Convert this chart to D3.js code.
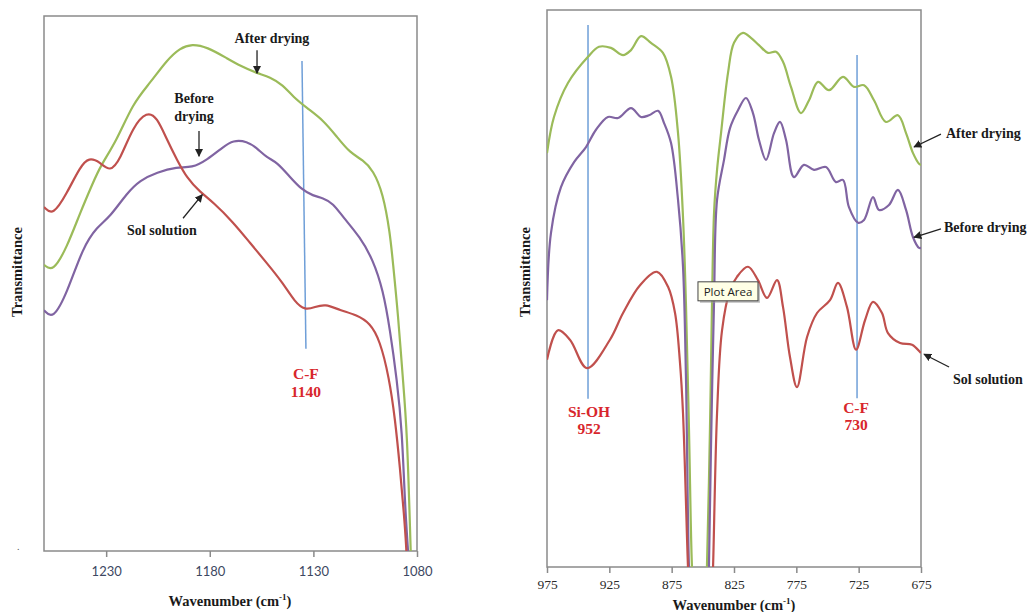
<!DOCTYPE html>
<html>
<meta charset=utf-8>
<head>
  <style>
    body { margin: 0; background: #fff; }
    svg { display: block; }
    .lbl { font-family: "Liberation Serif", "DejaVu Serif", serif; font-weight: bold; font-size: 14px; fill: #1a1a1a; }
    .peak { font-family: "Liberation Serif", serif; font-weight: bold; font-size: 15.5px; fill: #d8262c; }
    .ttl { font-family: "Liberation Serif", serif; font-weight: bold; font-size: 14.5px; fill: #1a1a1a; }
  </style>
</head>
<body>
<svg id="chart" width="1031" height="612"></svg>
<script src="https://d3js.org/d3.v7.min.js"></script>
<script>
// ---- left panel (1260-1080 cm-1) ----
var leftTicks = [1230, 1180, 1130, 1080]
var leftWave = {
  after:  [1260, 1255.7, 1248.9, 1242.6, 1236.4, 1233, 1224.8, 1217.1, 1208.8, 1200.6, 1194.4, 1188.6, 1181.3, 1171.7, 1165.4, 1157.2, 1150.9, 1144.7, 1139.8, 1133.1, 1125.4, 1118.6, 1112.3, 1106.1, 1101.2, 1096.4, 1093, 1091.6, 1089.2, 1086.8, 1084.8, 1083.2, 1082.8],
  before: [1260, 1255.7, 1248.9, 1241.2, 1234.4, 1228.2, 1220, 1213.7, 1205.5, 1195.8, 1188.6, 1181.3, 1173.6, 1168.8, 1162, 1157.2, 1152.4, 1147.6, 1141.3, 1135.5, 1130.2, 1125.4, 1120.5, 1115.7, 1107.5, 1101.2, 1096.4, 1093, 1089.7, 1087.2, 1085.8, 1084.3, 1083.9],
  sol:    [1260, 1255.7, 1248.9, 1242.6, 1238.3, 1233, 1228.2, 1223.3, 1217.1, 1210.3, 1205.5, 1200.6, 1195.8, 1191, 1184.7, 1178.4, 1168.8, 1160.6, 1152.4, 1144.7, 1138.9, 1134, 1129.2, 1124.4, 1117.2, 1109, 1102.7, 1097.9, 1093.5, 1090.6, 1088.2, 1086.2, 1085.2, 1084.8]
}
var leftT = {
  after:  [53.5, 52.1, 56.8, 63.2, 68.8, 71.8, 76.8, 83.7, 87.5, 91.8, 94, 94.8, 94.2, 92.1, 90.7, 89.3, 88.6, 87.1, 84.9, 82.8, 80.6, 77.4, 74.4, 73.1, 71.2, 66.9, 59.4, 53.8, 44.5, 32, 22.6, 2, -3],
  before: [45, 43.2, 48.2, 56.8, 60.6, 62.4, 66.9, 69.3, 70.8, 71.8, 71.6, 73.1, 75.5, 76.8, 76.6, 75.3, 73.5, 72.7, 69.9, 67.5, 66.4, 66, 65, 62.4, 58.7, 54.4, 48.8, 41.3, 32, 22.6, 8.4, 0, -3],
  sol:    [64.3, 62.6, 66.9, 71.8, 73.6, 72.7, 70.8, 73.1, 79.3, 82.2, 81.1, 76.8, 73.1, 69.7, 67.1, 65.2, 61.5, 57.6, 53.8, 50.1, 46.5, 45, 45.6, 46.2, 45, 44.1, 42.6, 39.4, 32.5, 24.8, 15.5, 6.5, 1, -3]
}

// ---- right panel (975-675 cm-1) ----
var rightTicks = [975, 925, 875, 825, 775, 725, 675]
var rightWave = {
  after:  [975, 969.4, 958.2, 942.1, 933.3, 923.7, 914, 907.6, 899.6, 891.6, 882, 875.5, 869.9, 865.9, 863.5, 861.1, 858.7, 857.5, 847.5, 846.7, 844.3, 842.6, 841, 838.6, 835.4, 829.8, 825, 817.8, 811.4, 805, 797.7, 791.3, 785.7, 779.3, 771.3, 764.8, 757.6, 748.8, 737.6, 728.7, 720.7, 712.7, 703.1, 693.5, 687, 681.4, 676.6, 675],
  before: [975, 971.8, 963.8, 953.3, 943.7, 935.7, 926.1, 918, 907.6, 899.6, 893.2, 886, 881.1, 875.5, 869.9, 865.9, 863.5, 861.1, 860, 845.8, 845.1, 843.5, 841, 838.6, 833, 828.2, 821.8, 815.4, 809.8, 805, 799.3, 792.9, 788.1, 783.3, 776.9, 768.9, 760.8, 751.2, 743.2, 737.6, 732.8, 725.5, 720.7, 713.5, 708.7, 700.7, 693.5, 687, 681.4, 676.6, 675],
  sol:    [975, 966.2, 956.6, 942.9, 924.5, 914, 900.4, 886.8, 877.9, 872.3, 868.3, 865.9, 861.9, 861, 842.5, 841.8, 838.6, 834.6, 828.2, 822.6, 813.8, 805.8, 798.5, 790.5, 785.7, 780.1, 774.5, 766.4, 758.4, 748, 741.6, 734.4, 727.1, 719.9, 713.5, 706.3, 701.5, 691.8, 682.2, 675.8, 675]
}
var rightT = {
  after:  [74.3, 80.8, 86.9, 91.6, 93.4, 93.2, 91.9, 92.8, 95.3, 94.1, 92.3, 88, 77.9, 62.8, 46.9, 24.6, 0, -4, -4, 0, 24.6, 47.9, 63.6, 71.3, 77.9, 88.7, 94.1, 95.9, 95, 93.7, 92.3, 92.5, 90.7, 86.2, 81.5, 83.8, 87.1, 85.6, 88, 86.2, 86.5, 83.8, 79.9, 81.1, 77.9, 74.3, 72.4, 72.2],
  before: [47.9, 60, 68.2, 72.7, 75.4, 78.5, 80.8, 80.6, 82.4, 80.8, 81.1, 81.9, 79.7, 76.1, 65.9, 53.9, 33.6, 0, -4, -4, 0, 21, 47.9, 65.9, 73.1, 78.8, 82, 84.2, 81.5, 76.7, 73.1, 77.9, 79.9, 76.7, 70, 72.2, 71.3, 71.8, 69.1, 69.5, 64.6, 61.8, 62.3, 66.4, 64.1, 65, 67.7, 64.1, 59.2, 57.3, 57.3],
  sol:    [37.2, 42.5, 40.8, 35.7, 40.8, 45.6, 50.6, 53, 50.3, 45.6, 36.6, 27.6, 0, -4, -4, 0, 27.6, 42.5, 49.7, 52.1, 53.9, 51.5, 48.3, 51.5, 46.7, 37.7, 32.3, 41.3, 45.6, 47.9, 51, 46.7, 39, 44.3, 47.6, 45.6, 42, 40.2, 39.9, 38.6, 38.4]
}

var colors = { after: '#9bbb59', before: '#8064a2', sol: '#c0504d' }
var seriesKeys = ['after', 'before', 'sol']

var svg = d3.select('#chart')
var defs = svg.append('defs')
defs.append('marker')
  .attr('id', 'arr').attr('viewBox', '0 0 10 10').attr('refX', 9).attr('refY', 5)
  .attr('markerWidth', 8).attr('markerHeight', 8).attr('markerUnits', 'userSpaceOnUse')
  .attr('orient', 'auto')
  .append('path').attr('d', 'M0,0 L10,5 L0,10 z').attr('fill', '#222')

function panel(opt) {
  var x = d3.scaleLinear().domain(opt.xDomain).range([opt.left, opt.right])
  var y = d3.scaleLinear().domain([0, 100]).range([opt.bottom, opt.top])
  var g = svg.append('g')

  defs.append('clipPath').attr('id', opt.id + '-clip')
    .append('rect').attr('x', opt.left).attr('y', opt.top)
    .attr('width', opt.right - opt.left).attr('height', opt.bottom - opt.top)

  // frame
  g.append('rect')
    .attr('x', opt.left).attr('y', opt.top)
    .attr('width', opt.right - opt.left).attr('height', opt.bottom - opt.top)
    .attr('fill', 'none').attr('stroke', '#8a8a8a').attr('stroke-width', 1.5)

  // x axis
  var ax = g.append('g').attr('transform', 'translate(0,' + opt.bottom + ')')
    .call(d3.axisBottom(x).tickValues(opt.ticks).tickFormat(d3.format('d'))
      .tickSize(6).tickSizeOuter(0).tickPadding(opt.tickPad))
  ax.select('.domain').remove()
  ax.selectAll('line').attr('stroke', '#8a8a8a').attr('stroke-width', 1.5)
  ax.selectAll('text')
    .attr('font-family', opt.tickFont).attr('font-size', opt.tickSize).attr('fill', opt.tickColor)

  // marker lines
  opt.markers.forEach(function (m) {
    g.append('line')
      .attr('x1', x(m.w1)).attr('y1', y(m.t1))
      .attr('x2', x(m.w2)).attr('y2', y(m.t2))
      .attr('stroke', '#6f9fd8').attr('stroke-width', 1.5)
  })

  var line = d3.line().curve(opt.curve)
  var lines = g.append('g').attr('clip-path', 'url(#' + opt.id + '-clip)')
  seriesKeys.forEach(function (k) {
    var pts = opt.wave[k].map(function (w, i) { return [x(w), y(opt.trans[k][i])] })
    lines.append('path').attr('d', line(pts))
      .attr('fill', 'none').attr('stroke', colors[k]).attr('stroke-width', 2.2)
  })

  // annotations
  opt.labels.forEach(function (l) {
    var t = g.append('text').attr('class', l.cls || 'lbl')
      .attr('x', x(l.w)).attr('y', y(l.t))
      .attr('text-anchor', l.anchor || 'middle')
    l.text.forEach(function (s, i) {
      t.append('tspan').attr('x', x(l.w)).attr('dy', i === 0 ? 0 : l.lh).text(s)
    })
  })
  opt.arrows.forEach(function (a) {
    g.append('line')
      .attr('x1', x(a[0])).attr('y1', y(a[1])).attr('x2', x(a[2])).attr('y2', y(a[3]))
      .attr('stroke', '#222').attr('stroke-width', 1.3).attr('marker-end', 'url(#arr)')
  })

  // titles
  var xt = g.append('text').attr('class', 'ttl').attr('text-anchor', 'middle')
    .attr('x', opt.xTitleX).attr('y', opt.xTitleY)
  xt.append('tspan').text('Wavenumber (cm')
  xt.append('tspan').attr('font-size', 9).attr('dy', -6).text('-1')
  xt.append('tspan').attr('dy', 6).text(')')
  g.append('text').attr('class', 'ttl').attr('text-anchor', 'middle')
    .attr('transform', 'translate(' + opt.yTitleX + ',' + opt.yTitleY + ') rotate(-90)')
    .text('Transmittance')
  return { x: x, y: y, g: g }
}

var L = panel({
  id: 'left', xDomain: [1260, 1080], left: 44, right: 417, top: 16, bottom: 551,
  ticks: leftTicks, tickPad: 10, tickFont: 'Lato, "Open Sans", sans-serif', tickSize: 13, tickColor: '#3d4862',
  wave: leftWave, trans: leftT, curve: d3.curveBasis,
  markers: [{ w1: 1135.5, t1: 91.6, w2: 1133.6, t2: 37.8 }],
  labels: [
    { text: ['After drying'], w: 1150, t: 95.0 },
    { text: ['Before', 'drying'], w: 1187.6, t: 83.7, lh: 18 },
    { text: ['Sol solution'], w: 1203.1, t: 59.1 },
    { text: ['C-F', '1140'], w: 1133.6, t: 32.1, lh: 18, cls: 'peak' }
  ],
  arrows: [
    [1157.2, 93.6, 1157.2, 89.3],
    [1185.2, 78.5, 1185.2, 73.8],
    [1192.9, 62.2, 1183.6, 66.6]
  ],
  xTitleX: 230, xTitleY: 606, yTitleX: 22, yTitleY: 272
})
L.g.append('text').attr('x', 17).attr('y', 550).attr('font-size', 10).attr('fill', '#555').text('.')

var R = panel({
  id: 'right', xDomain: [975, 675], left: 547, right: 921, top: 10, bottom: 567,
  ticks: rightTicks, tickPad: 6, tickFont: '"Liberation Serif", serif', tickSize: 13.5, tickColor: '#2a2a2a',
  wave: rightWave, trans: rightT, curve: d3.curveCatmullRom.alpha(0.5),
  markers: [
    { w1: 942.1, t1: 97.3, w2: 942.1, t2: 30.2 },
    { w1: 726.3, t1: 91.9, w2: 726.3, t2: 30.3 }
  ],
  labels: [
    { text: ['After drying'], w: 655, t: 77.0, anchor: 'start' },
    { text: ['Before drying'], w: 656.6, t: 60.1, anchor: 'start' },
    { text: ['Sol solution'], w: 649.3, t: 32.9, anchor: 'start' },
    { text: ['Si-OH', '952'], w: 941.3, t: 26.9, lh: 17, cls: 'peak' },
    { text: ['C-F', '730'], w: 727.1, t: 27.6, lh: 17, cls: 'peak' }
  ],
  arrows: [
    [659.0, 77.7, 680.6, 75.4],
    [659.0, 60.7, 680.6, 59.2],
    [652.5, 35.9, 672.6, 38.2]
  ],
  xTitleX: 734, xTitleY: 610, yTitleX: 530, yTitleY: 272
})

// "Plot Area" tooltip left over from the spreadsheet
var tip = R.g.append('g').attr('transform', 'translate(' + R.x(853.9) + ',' + R.y(51.2) + ')')
tip.append('rect').attr('x', 2).attr('y', 2).attr('width', 60).attr('height', 19).attr('fill', '#9a9a9a').attr('opacity', 0.6)
tip.append('rect').attr('width', 60).attr('height', 19).attr('fill', '#ffffe6').attr('stroke', '#444').attr('stroke-width', 1)
tip.append('text').attr('x', 30).attr('y', 14).attr('text-anchor', 'middle')
  .attr('font-family', '"Open Sans", "DejaVu Sans", sans-serif').attr('font-size', 11.5).attr('fill', '#222')
  .text('Plot Area')
</script>
</body>
</html>
